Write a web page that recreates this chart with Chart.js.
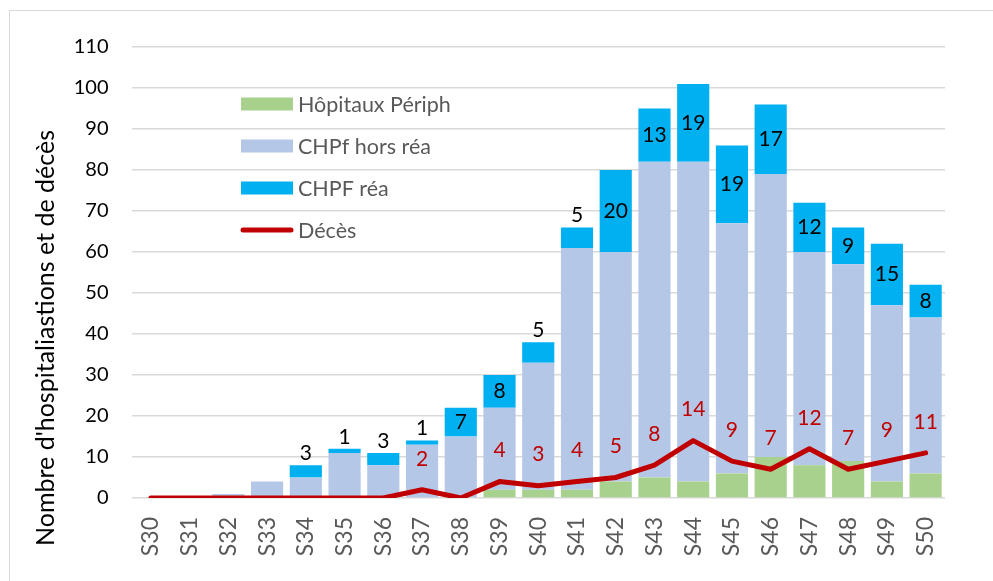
<!DOCTYPE html>
<html>
<head>
<meta charset="utf-8">
<script src="https://cdn.jsdelivr.net/npm/chart.js@4/dist/chart.umd.min.js"></script>
<style>
html,body{margin:0;padding:0;background:#fff;}
#wrap{width:993px;height:581px;}
</style>
</head>
<body>
<div id="wrap"><canvas id="c" width="993" height="581"></canvas></div>
<script>
const weeks = ["S30","S31","S32","S33","S34","S35","S36","S37","S38","S39","S40","S41","S42","S43","S44","S45","S46","S47","S48","S49","S50"];
const hopitauxPeriph = [0,0,0,0,0,0,0,0,0,2,2,2,4,5,4,6,10,8,9,4,6];
const chpfHorsRea   = [0,0,1,4,5,11,8,13,15,20,31,59,56,77,78,61,69,52,48,43,38];
const chpfRea       = [0,0,0,0,3,1,3,1,7,8,5,5,20,13,19,19,17,12,9,15,8];
const deces         = [0,0,0,0,0,0,0,2,0,4,3,4,5,8,14,9,7,12,7,9,11];
const yTicks = [0,10,20,30,40,50,60,70,80,90,100,110];
const seriesNames = ["Hôpitaux Périph","CHPf hors réa","CHPF réa","Décès"];
const yTitle = "Nombre d'hospitaliastions et de décès";

const FONT = "Lato, 'Open Sans', sans-serif";
const COLORS = ["#A9D18E","#B4C7E7","#00B0F0","#C00000"];

const extras = {
  id: 'extras',
  beforeDraw(chart){
    const ctx = chart.ctx;
    ctx.save();
    ctx.strokeStyle = '#d9d9d9';
    ctx.lineWidth = 1;
    ctx.strokeRect(9.5, 10.5, 1100, 1100);
    ctx.restore();
  },
  afterDatasetsDraw(chart){
    const ctx = chart.ctx;
    ctx.save();
    ctx.textAlign = 'center';
    ctx.textBaseline = 'middle';
    ctx.font = "21px " + FONT;
    const reaMeta = chart.getDatasetMeta(2);
    reaMeta.data.forEach((el, i) => {
      const v = chpfRea[i];
      if (!v) return;
      const top = Math.min(el.y, el.base);
      const bot = Math.max(el.y, el.base);
      let y = v <= 5 ? top - 12 : (top + bot) / 2;
      ctx.fillStyle = '#000';
      ctx.fillText(String(v), el.x, y);
    });
    const dMeta = chart.getDatasetMeta(3);
    dMeta.data.forEach((el, i) => {
      const v = deces[i];
      if (!v) return;
      ctx.fillStyle = '#C00000';
      ctx.fillText(String(v), el.x, el.y - 31);
    });
    ctx.restore();
  },
  afterDraw(chart){
    const ctx = chart.ctx;
    ctx.save();
    const ys = [104,146,188,230];
    ctx.font = "21.5px " + FONT;
    ctx.textBaseline = 'middle';
    ctx.textAlign = 'left';
    seriesNames.forEach((name, i) => {
      const y = ys[i];
      if (i < 3) {
        ctx.fillStyle = COLORS[i];
        ctx.fillRect(241, y - 6.5, 52, 13);
      } else {
        ctx.strokeStyle = COLORS[3];
        ctx.lineWidth = 5;
        ctx.lineCap = 'round';
        ctx.beginPath();
        ctx.moveTo(243, y);
        ctx.lineTo(291, y);
        ctx.stroke();
      }
      ctx.fillStyle = '#595959';
      ctx.fillText(name, 298, y + 1);
    });
    ctx.translate(46, 338);
    ctx.rotate(-Math.PI/2);
    ctx.textAlign = 'center';
    ctx.fillStyle = '#000';
    ctx.font = "25px " + FONT;
    ctx.fillText(yTitle, 0, 0);
    ctx.restore();
  }
};

new Chart(document.getElementById('c'), {
  type: 'bar',
  data: {
    labels: weeks,
    datasets: [
      {label: seriesNames[0], data: hopitauxPeriph, backgroundColor: COLORS[0], stack: 'h', order: 1, barPercentage: 0.83, categoryPercentage: 1},
      {label: seriesNames[1], data: chpfHorsRea, backgroundColor: COLORS[1], stack: 'h', order: 1, barPercentage: 0.83, categoryPercentage: 1},
      {label: seriesNames[2], data: chpfRea, backgroundColor: COLORS[2], stack: 'h', order: 1, barPercentage: 0.83, categoryPercentage: 1},
      {label: seriesNames[3], data: deces, type: 'line', stack: 'd', order: 0, borderColor: COLORS[3], backgroundColor: COLORS[3], borderWidth: 5, pointRadius: 0, tension: 0, borderCapStyle: 'round', borderJoinStyle: 'round', fill: false}
    ]
  },
  options: {
    responsive: false,
    animation: false,
    layout: {padding: {left: 0, right: 48, top: 47, bottom: 0}},
    plugins: {legend: {display: false}, tooltip: {enabled: false}},
    scales: {
      x: {
        stacked: true,
        offset: true,
        grid: {display: false, drawTicks: false},
        border: {display: false},
        ticks: {minRotation: 90, maxRotation: 90, padding: 19, color: '#595959', font: {family: FONT, size: 23}},
        afterFit(s){ s.height = 83; }
      },
      y: {
        stacked: true,
        min: 0, max: 110,
        afterBuildTicks(s){ s.ticks = yTicks.map(v => ({value: v})); },
        grid: {color: '#d9d9d9', lineWidth: 1.5, drawTicks: false},
        border: {display: false},
        ticks: {padding: 23, color: '#000', font: {family: FONT, size: 20}},
        afterFit(s){ s.width = 131.5; }
      }
    }
  },
  plugins: [extras]
});
</script>
</body>
</html>
